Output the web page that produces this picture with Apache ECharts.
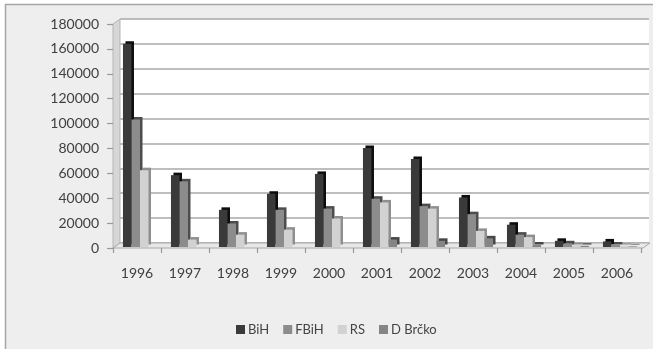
<!DOCTYPE html>
<html>
<head>
<meta charset="utf-8">
<script src="https://cdn.jsdelivr.net/npm/echarts@6/dist/echarts.min.js"></script>
<style>
  html, body { margin: 0; padding: 0; background: #ffffff; }
  #chart { width: 653px; height: 349px; }
</style>
</head>
<body>
<div id="chart"></div>
<script>
// Years on the category axis
const years = ['1996', '1997', '1998', '1999', '2000', '2001', '2002', '2003', '2004', '2005', '2006'];

// Series values per year
const bih    = [164000, 58000, 30000, 43000, 59000, 80000, 71000, 40000, 18000, 5000, 4500];
const fbih   = [103000, 53000, 19000, 30000, 31000, 39000, 33000, 26500, 10000, 3000, 2000];
const rs     = [62000, 6000, 10000, 14000, 23000, 36000, 31000, 13000, 8000, 1500, 1000];
const brcko  = [null, null, null, null, null, 6000, 5000, 7000, 2000, 1000, 500];

const seriesNames = ['BiH', 'FBiH', 'RS', 'D Brčko'];
const yTicks = [0, 20000, 40000, 60000, 80000, 100000, 120000, 140000, 160000, 180000];

const FONT = 'Lato, "Open Sans", sans-serif';
const yMin = yTicks[0];
const yMax = yTicks[yTicks.length - 1];
const yStep = yTicks[1] - yTicks[0];

const chart = echarts.init(document.getElementById('chart'), null, { renderer: 'canvas' });

// Front face colour and darker depth colour for each series
const faces = ['#3a3a3a', '#8c8c8c', '#d2d2d2', '#858585'];
const sides = ['#0d0d0d', '#4d4d4d', '#8f8f8f', '#474747'];
const values = [bih, fbih, rs, brcko];

const barSeries = seriesNames.map((name, i) => ({
  name: name,
  type: 'bar',
  xAxisIndex: 2,
  yAxisIndex: 2,
  data: values[i],
  barGap: '0%',
  barCategoryGap: '29%',
  itemStyle: {
    color: faces[i],
    shadowColor: sides[i],
    shadowBlur: 0,
    shadowOffsetX: 2.5,
    shadowOffsetY: -2.5
  },
  emphasis: { disabled: true }
}));

// Back-wall grid used only for the horizontal gridlines
const wallSeries = {
  type: 'bar',
  xAxisIndex: 0,
  yAxisIndex: 0,
  data: [],
  silent: true
};

const option = {
  backgroundColor: '#ffffff',
  animation: false,
  textStyle: { fontFamily: FONT },
  graphic: [
    // chart frame
    { type: 'rect', z: -10, shape: { x: 5.5, y: 4.5, width: 660, height: 360 },
      style: { fill: '#eeeeee', stroke: '#a6a6a6', lineWidth: 1.5 } },
    // side wall of the 3-D box
    { type: 'polygon', z: 1, shape: { points: [[113, 24], [120, 19], [120, 243], [113, 248]] },
      style: { fill: '#d6d6d6', stroke: '#b5b5b5', lineWidth: 1 } },
    // floor of the 3-D box
    { type: 'polygon', z: 1, shape: { points: [[113, 248], [120, 243], [650, 243], [643, 248]] },
      style: { fill: '#e8e8e8', stroke: '#a8a8a8', lineWidth: 1 } }
  ],
  legend: {
    data: seriesNames,
    left: 231,
    top: 318,
    itemWidth: 9,
    itemHeight: 9,
    itemGap: 14,
    icon: 'rect',
    textStyle: { fontFamily: FONT, fontSize: 13, color: '#444444', padding: [0, 0, 0, -2] }
  },
  grid: [
    { left: 120, right: 4, top: 19, bottom: 106, show: true, backgroundColor: '#ffffff', borderWidth: 0 },
    { left: 113, right: 12, top: 24, bottom: 101 },
    { left: 116, right: 9, top: 24, bottom: 102 }
  ],
  xAxis: [
    { gridIndex: 0, type: 'category', data: years, show: false },
    { gridIndex: 1, type: 'category', data: years, z: 3,
      axisLine: { show: false },
      axisTick: { show: true, length: 5, lineStyle: { color: '#9a9a9a', width: 1.2 } },
      axisLabel: { fontFamily: FONT, fontSize: 14, color: '#404040', margin: 18 } },
    { gridIndex: 2, type: 'category', data: years, show: false }
  ],
  yAxis: [
    { gridIndex: 0, type: 'value', min: yMin, max: yMax, interval: yStep,
      axisLine: { show: false }, axisTick: { show: false }, axisLabel: { show: false },
      splitLine: { show: true, lineStyle: { color: '#a9a9a9', width: 1.5 } } },
    { gridIndex: 1, type: 'value', min: yMin, max: yMax, interval: yStep, z: 3,
      axisLine: { show: false },
      axisTick: { show: true, length: 6, lineStyle: { color: '#9a9a9a', width: 1.2 } },
      axisLabel: { fontFamily: FONT, fontSize: 14, color: '#404040', margin: 14,
                   formatter: (v) => String(v) },
      splitLine: { show: false } },
    { gridIndex: 2, type: 'value', min: yMin, max: yMax, show: false, splitLine: { show: false } }
  ],
  series: [wallSeries].concat(barSeries)
};

chart.setOption(option);
</script>
</body>
</html>
